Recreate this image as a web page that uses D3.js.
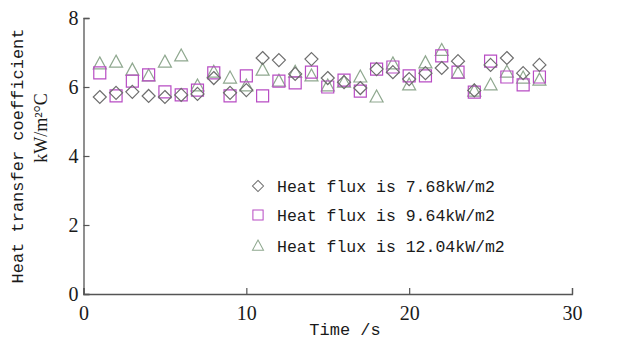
<!DOCTYPE html>
<html><head><meta charset="utf-8">
<script src="https://cdn.jsdelivr.net/npm/d3@7"></script>
<style>html,body{margin:0;padding:0;background:#fff;}</style>
</head><body>
<svg id="c" width="626" height="342"></svg>
<script>
const times = [1,2,3,4,5,6,7,8,9,10,11,12,13,14,15,16,17,18,19,20,21,22,23,24,25,26,27,28];
const flux768 = [5.71,5.83,5.86,5.74,5.71,5.77,5.80,6.26,5.83,5.91,6.84,6.78,6.38,6.81,6.26,6.14,5.97,6.52,6.43,6.23,6.40,6.55,6.75,5.90,6.64,6.84,6.40,6.64];
const flux964 = [6.41,5.74,6.17,6.35,5.86,5.77,5.91,6.41,5.74,6.32,5.74,6.17,6.12,6.43,6.00,6.20,5.88,6.52,6.58,6.32,6.32,6.90,6.43,5.85,6.75,6.29,6.06,6.29];
const flux1204 = [6.67,6.72,6.49,6.32,6.72,6.90,6.03,6.43,6.26,6.03,6.49,6.17,6.43,6.32,6.03,6.14,6.29,5.71,6.67,6.06,6.70,7.06,6.40,5.88,6.06,6.43,6.26,6.20];
const xTicks = [0,10,20,30];
const yTicks = [0,2,4,6,8];
const seriesNames = ["Heat flux is 7.68kW/m2","Heat flux is 9.64kW/m2","Heat flux is 12.04kW/m2"];

const svg = d3.select("#c");
const x = d3.scaleLinear().domain([0,30]).range([83.5,572]);
const y = d3.scaleLinear().domain([0,8]).range([294,18]);
const axisColor = "#555";

const gx = svg.append("g").attr("transform","translate(0,294)")
  .call(d3.axisBottom(x).tickValues(xTicks).tickSize(-6).tickPadding(9).tickFormat(d3.format("d")));
const gy = svg.append("g").attr("transform","translate(83.5,0)")
  .call(d3.axisLeft(y).tickValues(yTicks).tickSize(-6).tickPadding(4).tickFormat(d3.format("d")));
[gx,gy].forEach(g=>{
  g.select(".domain").attr("stroke",axisColor).attr("stroke-width",1.3);
  g.selectAll(".tick line").attr("stroke",axisColor).attr("stroke-width",1.2);
  g.selectAll(".tick text").attr("font-family","Liberation Serif").attr("font-size",20).attr("fill","#1a1a1a");
});
gx.selectAll(".tick text").attr("dy","0.85em");
gy.selectAll(".tick text").attr("dx","-1");

svg.append("text").attr("x",345).attr("y",335).attr("text-anchor","middle")
  .attr("font-family","Liberation Mono").attr("font-size",17).attr("fill","#1a1a1a").text("Time /s");
svg.append("text").attr("transform","translate(23,156) rotate(-90)").attr("text-anchor","middle")
  .attr("font-family","Liberation Mono").attr("font-size",17).attr("fill","#1a1a1a").text("Heat transfer coefficient");
svg.append("text").attr("transform","translate(47,128) rotate(-90)").attr("text-anchor","middle")
  .attr("font-family","Liberation Serif").attr("font-size",18).attr("fill","#1a1a1a").text("kW/m²°C");

const colors = ["#6e6e6e","#b84cc4","#8fa88f"];
const data = [flux768, flux964, flux1204];

function shape(i){
  if(i===0) return "M0,-6.5L6.5,0L0,6.5L-6.5,0Z";
  if(i===1) return "M-6,-6L6,-6L6,6L-6,6Z";
  return "M0,-7L6.5,5L-6.5,5Z";
}

[2,1,0].forEach(i=>{
  svg.append("g").selectAll("path").data(times).join("path")
    .attr("d",shape(i))
    .attr("transform",(t,k)=>`translate(${x(t)},${y(data[i][k])})`)
    .attr("fill","none").attr("stroke",colors[i]).attr("stroke-width",1.2);
});

const legY = [186,215,246];
seriesNames.forEach((n,i)=>{
  svg.append("path").attr("d",shape(i)).attr("transform",`translate(258,${legY[i]}) scale(0.85)`)
    .attr("fill","none").attr("stroke",colors[i]).attr("stroke-width",1.2);
  svg.append("text").attr("x",277).attr("y",legY[i]).attr("dy","0.35em")
    .attr("font-family","Liberation Mono").attr("font-size",16.5).attr("fill","#1a1a1a").text(n);
});
</script>
</body></html>
